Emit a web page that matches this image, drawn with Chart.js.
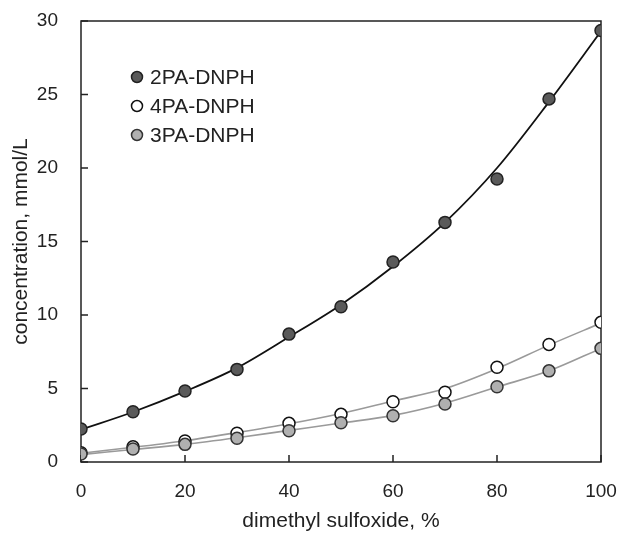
<!DOCTYPE html>
<html>
<head>
<meta charset="utf-8">
<script src="https://cdn.jsdelivr.net/npm/chart.js@4/dist/chart.umd.min.js"></script>
<style>
  body { margin: 0; background: #fff; }
  #wrap { width: 621px; height: 534px; }
</style>
</head>
<body>
<div id="wrap"><canvas id="chart" width="621" height="534"></canvas></div>
<script>
// DMSO content, %
const dmso = [0, 10, 20, 30, 40, 50, 60, 70, 80, 90, 100];

// measured concentrations, mmol/L
const pa2 = [2.24, 3.42, 4.83, 6.3, 8.7, 10.56, 13.6, 16.3, 19.25, 24.7, 29.35];
const pa4 = [0.63, 1.04, 1.43, 1.95, 2.63, 3.24, 4.1, 4.74, 6.44, 8.0, 9.5];
const pa3 = [0.54, 0.88, 1.2, 1.61, 2.13, 2.67, 3.15, 3.95, 5.12, 6.2, 7.73];

// trend curves
const fit2 = [2.2, 3.4, 4.8, 6.4, 8.5, 10.7, 13.3, 16.3, 20.0, 24.5, 29.3];
const fit4 = [0.6, 1.0, 1.45, 2.0, 2.6, 3.3, 4.15, 5.0, 6.35, 7.95, 9.45];
const fit3 = [0.5, 0.85, 1.2, 1.65, 2.15, 2.65, 3.17, 4.0, 5.1, 6.2, 7.73];

const xTicks = [0, 20, 40, 60, 80, 100];
const yTicks = [0, 5, 10, 15, 20, 25, 30];

const legendOrder = ["2PA-DNPH", "4PA-DNPH", "3PA-DNPH"];

const font = "'Liberation Sans', Arial, sans-serif";
const ink = "#222";

function pts(ys) {
    return dmso.map((x, i) => ({ x: x, y: ys[i] }));
}

// box, inward ticks and the legend
const framePlugin = {
    id: "frame",
    beforeDatasetsDraw(chart) {
        const ctx = chart.ctx;
        const a = chart.chartArea;
        const xs = chart.scales.x;
        const ys = chart.scales.y;
        ctx.save();
        ctx.strokeStyle = ink;
        ctx.lineWidth = 1.5;
        ctx.strokeRect(a.left, a.top, a.right - a.left, a.bottom - a.top);
        ctx.beginPath();
        xTicks.forEach((v) => {
            const px = xs.getPixelForValue(v);
            ctx.moveTo(px, a.bottom);
            ctx.lineTo(px, a.bottom - 7);
        });
        yTicks.forEach((v) => {
            const py = ys.getPixelForValue(v);
            ctx.moveTo(a.left, py);
            ctx.lineTo(a.left + 7, py);
        });
        ctx.stroke();
        ctx.restore();
    },
    afterDraw(chart) {
        const ctx = chart.ctx;
        ctx.save();
        ctx.font = "21px " + font;
        ctx.textBaseline = "middle";
        legendOrder.forEach((name, i) => {
            const ds = chart.data.datasets.find((d) => d.label === name);
            const y = 77 + i * 29;
            ctx.beginPath();
            ctx.arc(137, y, 5.5, 0, Math.PI * 2);
            ctx.fillStyle = ds.backgroundColor;
            ctx.fill();
            ctx.lineWidth = 1.5;
            ctx.strokeStyle = ds.borderColor;
            ctx.stroke();
            ctx.fillStyle = ink;
            ctx.fillText(name, 150, y + 1);
        });
        ctx.restore();
    }
};

function markerSet(label, data, fill, edge) {
    return {
        type: "scatter",
        label: label,
        data: pts(data),
        backgroundColor: fill,
        borderColor: edge,
        borderWidth: 1.5,
        pointRadius: 6,
        showLine: false
    };
}

function curveSet(label, data, color, width) {
    return {
        type: "line",
        label: label,
        data: pts(data),
        borderColor: color,
        borderWidth: width,
        pointRadius: 0,
        fill: false,
        cubicInterpolationMode: "monotone"
    };
}

new Chart(document.getElementById("chart"), {
    data: {
        datasets: [
            markerSet("2PA-DNPH", pa2, "#5a5a5a", "#222"),
            markerSet("3PA-DNPH", pa3, "#b0b0b0", "#333"),
            markerSet("4PA-DNPH", pa4, "#ffffff", "#111"),
            curveSet("fit 2PA", fit2, "#111", 1.8),
            curveSet("fit 4PA", fit4, "#9a9a9a", 1.6),
            curveSet("fit 3PA", fit3, "#9a9a9a", 1.6)
        ]
    },
    options: {
        responsive: false,
        animation: false,
        layout: { padding: { left: 0, right: 20, top: 21, bottom: 0 } },
        plugins: {
            legend: { display: false },
            tooltip: { enabled: false }
        },
        scales: {
            x: {
                type: "linear",
                min: 0,
                max: 100,
                afterBuildTicks: (s) => { s.ticks = xTicks.map((v) => ({ value: v })); },
                afterFit: (s) => {
                    s.height = 72;
                    s.paddingLeft = 0;
                    s.paddingRight = 0;
                },
                grid: { display: false, drawTicks: false },
                border: { display: false },
                ticks: { padding: 18, color: ink, font: { family: font, size: 19 } },
                title: {
                    display: true,
                    text: "dimethyl sulfoxide, %",
                    color: ink,
                    font: { family: font, size: 21 },
                    padding: { top: 4, bottom: 0 }
                }
            },
            y: {
                type: "linear",
                min: 0,
                max: 30,
                afterBuildTicks: (s) => { s.ticks = yTicks.map((v) => ({ value: v })); },
                afterFit: (s) => {
                    s.width = 81;
                    s.paddingTop = 0;
                    s.paddingBottom = 0;
                },
                grid: { display: false, drawTicks: false },
                border: { display: false },
                ticks: { padding: 23, color: ink, font: { family: font, size: 19 } },
                title: {
                    display: true,
                    text: "concentration, mmol/L",
                    color: ink,
                    font: { family: font, size: 21 },
                    padding: { top: 9, bottom: 0 }
                }
            }
        }
    },
    plugins: [framePlugin]
});
</script>
</body>
</html>
